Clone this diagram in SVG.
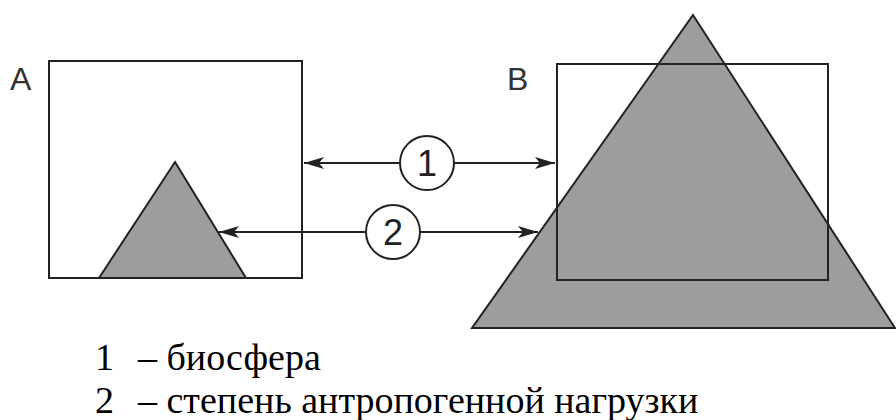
<svg xmlns="http://www.w3.org/2000/svg" width="896" height="420" viewBox="0 0 896 420">
<style>
.box{fill:none;stroke:#222;stroke-width:2}
.tri{fill:#9d9d9d;stroke:#222;stroke-width:2;stroke-linejoin:miter}
.lbl{font-family:"Liberation Sans",Arial,sans-serif;font-size:32px;fill:#333}
.line{stroke:#222;stroke-width:2;fill:none}
.circ{fill:#fff;stroke:#222;stroke-width:2}
.num{font-family:"Liberation Sans",Arial,sans-serif;font-size:36px;fill:#222;text-anchor:middle}
.leg{font-family:"Liberation Serif","Times New Roman",serif;font-size:38px;fill:#000}
</style>
<defs>
<marker id="ah" viewBox="0 0 20 12" refX="20" refY="6" markerWidth="20" markerHeight="12" markerUnits="userSpaceOnUse" orient="auto-start-reverse">
<path d="M0,0 L20,6 L0,12 L5,6 Z" fill="#222"/>
</marker>
</defs>
<g id="nodeA">
<rect class="box" x="49" y="61" width="253" height="217"/>
<polygon class="tri" points="175,162 246,278 99,278"/>
<text class="lbl" x="10" y="90">A</text>
</g>
<g id="nodeB">
<polygon class="tri" points="693,15 895,328 472,328"/>
<rect class="box" x="557" y="64" width="271" height="216"/>
<text class="lbl" x="507" y="90">B</text>
</g>
<g id="connectors">
<line class="line" x1="304" y1="163" x2="555" y2="163" marker-start="url(#ah)" marker-end="url(#ah)"/>
<line class="line" x1="219" y1="232" x2="538" y2="232" marker-start="url(#ah)" marker-end="url(#ah)"/>
<circle class="circ" cx="427" cy="163" r="27"/>
<text class="num" x="427" y="176">1</text>
<circle class="circ" cx="393" cy="232" r="27"/>
<text class="num" x="393" y="245">2</text>
</g>
<g id="legend">
<text class="leg" x="95" y="370">1</text>
<text class="leg" x="138" y="370">– биосфера</text>
<text class="leg" x="95" y="413">2</text>
<text class="leg" x="138" y="413">– степень антропогенной нагрузки</text>
</g>
</svg>
